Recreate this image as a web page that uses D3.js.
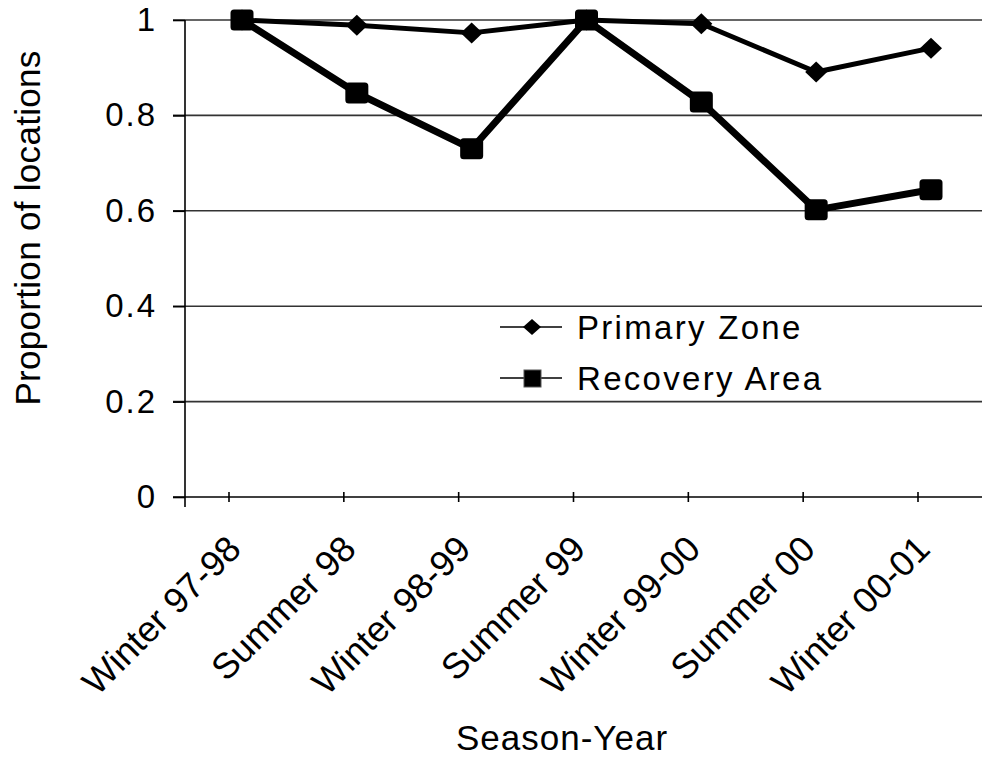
<!DOCTYPE html>
<html>
<head>
<meta charset="utf-8">
<script src="https://cdn.jsdelivr.net/npm/d3@7"></script>
<style>
  body { margin: 0; background: #fff; }
  svg { display: block; font-family: Arial, "Liberation Sans", sans-serif; }
</style>
</head>
<body>
<svg id="chart" width="982" height="757"></svg>
<script>
// data
var seasons = ["Winter 97-98", "Summer 98", "Winter 98-99", "Summer 99", "Winter 99-00", "Summer 00", "Winter 00-01"];
var primaryZone = [1.0, 0.989, 0.973, 1.0, 0.992, 0.891, 0.941];
var recoveryArea = [1.0, 0.847, 0.730, 1.0, 0.828, 0.602, 0.644];
var yTicks = [0, 0.2, 0.4, 0.6, 0.8, 1];
var seriesNames = ["Primary Zone", "Recovery Area"];

var svg = d3.select("#chart");

// plot box
var plotLeft = 185, plotTop = 20, plotRight = 982, plotBottom = 497;

var x = d3.scalePoint()
    .domain(seasons)
    .range([242, 931]);
var tickShift = -13; // excel put the ticks a bit left of the points

var y = d3.scaleLinear()
    .domain([0, 1])
    .range([plotBottom, plotTop]);

// gridlines (also act as the y ticks, sticking out left of the axis)
svg.append("g")
    .selectAll("line")
    .data(yTicks.filter(function (d) { return d > 0; }))
    .enter()
    .append("line")
    .attr("x1", plotLeft - 12)
    .attr("x2", plotRight)
    .attr("y1", function (d) { return y(d); })
    .attr("y2", function (d) { return y(d); })
    .attr("stroke", "#333")
    .attr("stroke-width", 1.6);

// y axis
var yAxis = svg.append("g")
    .attr("transform", "translate(" + plotLeft + ",0)")
    .call(d3.axisLeft(y).tickValues(yTicks).tickSize(12).tickPadding(16).tickFormat(d3.format("")));
yAxis.select(".domain").remove();
yAxis.selectAll(".tick line").attr("stroke", "#000").attr("stroke-width", 1.6);
yAxis.selectAll("text")
    .attr("font-size", 33)
    .attr("fill", "#000")
    .attr("font-family", "Arial, 'Liberation Sans', sans-serif")
    .style("letter-spacing", "2px");

svg.append("line")
    .attr("x1", plotLeft).attr("x2", plotLeft)
    .attr("y1", plotTop).attr("y2", plotBottom + 10)
    .attr("stroke", "#000").attr("stroke-width", 1.6);

// x axis
svg.append("line")
    .attr("x1", plotLeft - 12).attr("x2", plotRight)
    .attr("y1", plotBottom).attr("y2", plotBottom)
    .attr("stroke", "#000").attr("stroke-width", 1.6);

svg.append("g")
    .selectAll("line")
    .data(seasons)
    .enter()
    .append("line")
    .attr("x1", function (d) { return x(d) + tickShift; })
    .attr("x2", function (d) { return x(d) + tickShift; })
    .attr("y1", plotBottom - 5)
    .attr("y2", plotBottom + 5)
    .attr("stroke", "#000")
    .attr("stroke-width", 1.6);

svg.append("g")
    .selectAll("text")
    .data(seasons)
    .enter()
    .append("text")
    .attr("transform", function (d) { return "translate(" + (x(d) + 1) + "," + (plotBottom + 54) + ") rotate(-45)"; })
    .attr("text-anchor", "end")
    .attr("font-size", 36)
    .text(function (d) { return d; });

// axis titles
svg.append("text")
    .attr("x", 562)
    .attr("y", 750)
    .attr("text-anchor", "middle")
    .attr("font-size", 35)
    .style("letter-spacing", "1px")
    .text("Season-Year");

svg.append("text")
    .attr("transform", "translate(40," + 228 + ") rotate(-90)")
    .attr("text-anchor", "middle")
    .attr("font-size", 35)
    .style("letter-spacing", "0.3px")
    .text("Proportion of locations");

// lines
var line = d3.line()
    .x(function (d, i) { return x(seasons[i]); })
    .y(function (d) { return y(d); });

function diamond(cx, cy, hw, hh) {
    return "M" + cx + "," + (cy - hh) + "L" + (cx + hw) + "," + cy + "L" + cx + "," + (cy + hh) + "L" + (cx - hw) + "," + cy + "Z";
}

svg.append("path")
    .datum(primaryZone)
    .attr("d", line)
    .attr("fill", "none")
    .attr("stroke", "#000")
    .attr("stroke-width", 5)
    .attr("stroke-linejoin", "round");

svg.append("path")
    .datum(recoveryArea)
    .attr("d", line)
    .attr("fill", "none")
    .attr("stroke", "#000")
    .attr("stroke-width", 7)
    .attr("stroke-linejoin", "round");

// markers
svg.append("g")
    .selectAll("path")
    .data(primaryZone)
    .enter()
    .append("path")
    .attr("d", function (d, i) { return diamond(x(seasons[i]), y(d), 11, 10.5); })
    .attr("fill", "#000");

svg.append("g")
    .selectAll("rect")
    .data(recoveryArea)
    .enter()
    .append("rect")
    .attr("x", function (d, i) { return x(seasons[i]) - 11.5; })
    .attr("y", function (d) { return y(d) - 10.5; })
    .attr("width", 23)
    .attr("height", 21)
    .attr("rx", 3.5)
    .attr("fill", "#000");

// legend
var legend = svg.append("g")
    .attr("transform", "translate(500,327)");

var items = legend.selectAll("g")
    .data(seriesNames)
    .enter()
    .append("g")
    .attr("transform", function (d, i) { return "translate(0," + (i * 51) + ")"; });

items.append("line")
    .attr("x1", 0).attr("x2", 62)
    .attr("y1", 0).attr("y2", 0)
    .attr("stroke", "#000")
    .attr("stroke-width", 1.6);

items.filter(function (d, i) { return i === 0; })
    .append("path")
    .attr("d", diamond(32, 0, 9, 8))
    .attr("fill", "#000");

items.filter(function (d, i) { return i === 1; })
    .append("rect")
    .attr("x", 24).attr("y", -8)
    .attr("width", 17).attr("height", 17)
    .attr("fill", "#000")
    .attr("stroke", "#555")
    .attr("stroke-width", 1);

items.append("text")
    .attr("x", 77)
    .attr("y", 12)
    .attr("font-size", 33)
    .style("letter-spacing", "2.3px")
    .text(function (d) { return d; });
</script>
</body>
</html>
